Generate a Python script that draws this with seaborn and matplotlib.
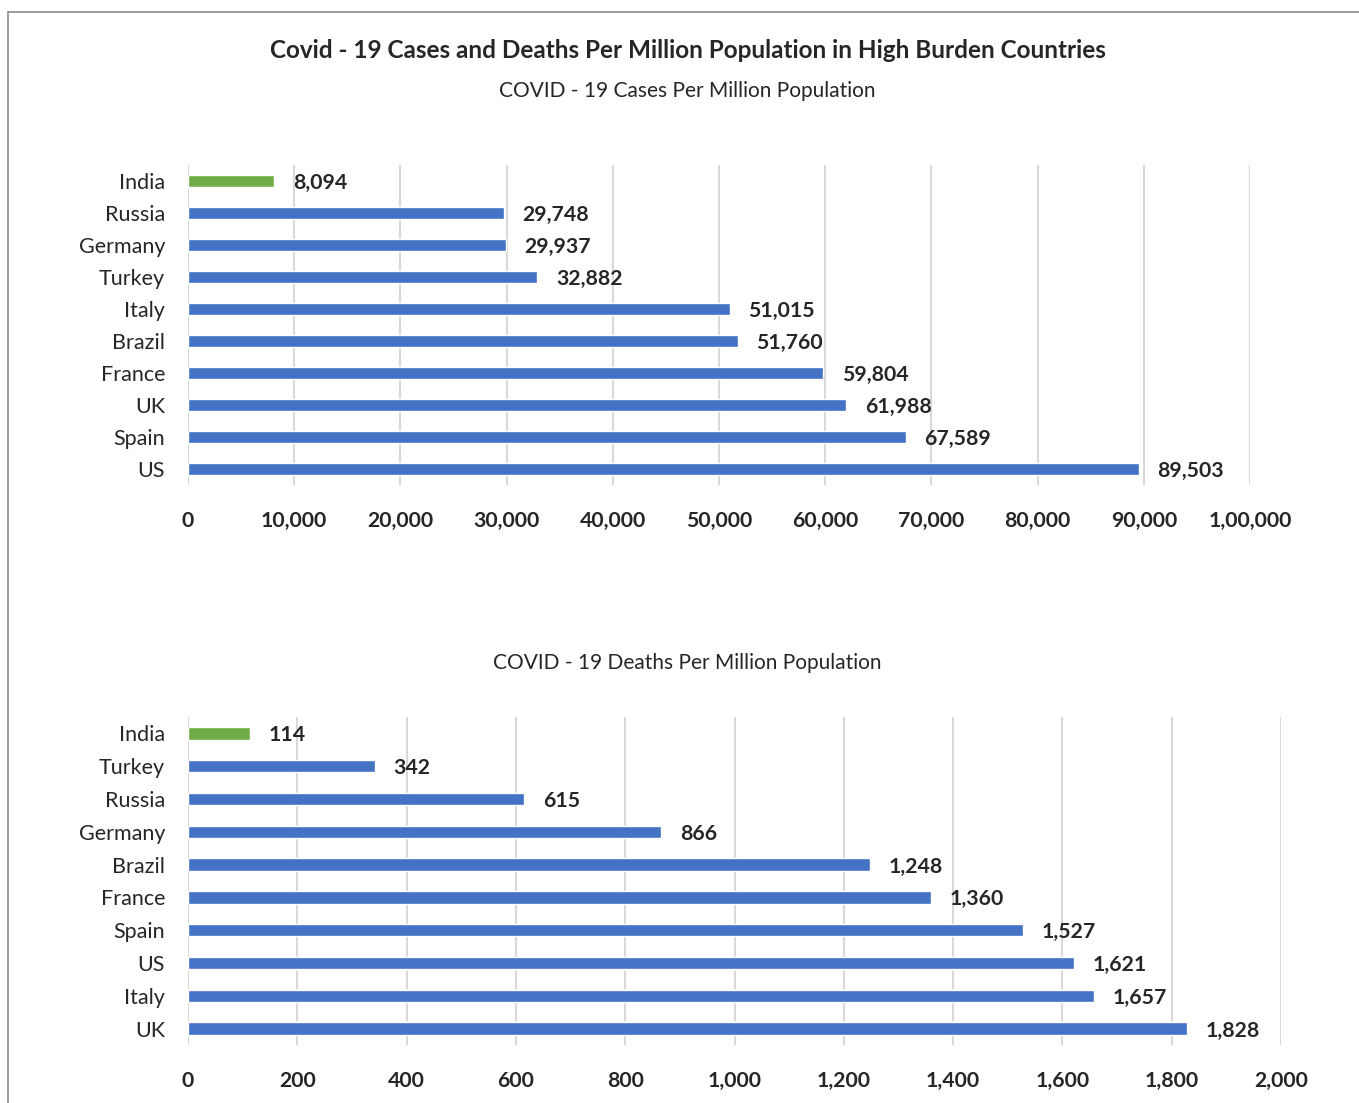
import matplotlib.pyplot as plt
import seaborn as sns
import pandas as pd
from matplotlib.lines import Line2D

# data
case_countries = ["India", "Russia", "Germany", "Turkey", "Italy", "Brazil",
                  "France", "UK", "Spain", "US"]
case_values = [8094, 29748, 29937, 32882, 51015, 51760, 59804, 61988, 67589, 89503]
case_ticks = [0, 10000, 20000, 30000, 40000, 50000, 60000, 70000, 80000, 90000, 100000]
case_tick_labels = ["0", "10,000", "20,000", "30,000", "40,000", "50,000", "60,000",
                    "70,000", "80,000", "90,000", "1,00,000"]

death_countries = ["India", "Turkey", "Russia", "Germany", "Brazil", "France",
                   "Spain", "US", "Italy", "UK"]
death_values = [114, 342, 615, 866, 1248, 1360, 1527, 1621, 1657, 1828]
death_ticks = [0, 200, 400, 600, 800, 1000, 1200, 1400, 1600, 1800, 2000]
death_tick_labels = ["0", "200", "400", "600", "800", "1,000", "1,200", "1,400",
                     "1,600", "1,800", "2,000"]

BLUE = "#4472C4"
GREEN = "#70AD47"
GRID = "#d9d9d9"
TEXT = "#262626"

sns.set_style("white")
plt.rcParams["font.family"] = ["Lato", "DejaVu Sans"]

fig = plt.figure(figsize=(13.59, 11.03), dpi=100)


def draw_panel(rect, countries, values, ticks, tick_labels):
    ax = fig.add_axes(rect)
    df = pd.DataFrame({"country": countries, "value": values})
    colors = [GREEN if c == "India" else BLUE for c in countries]
    sns.barplot(data=df, x="value", y="country", hue="country", palette=colors,
                orient="h", width=0.38, saturation=1, legend=False, ax=ax)
    for cont in ax.containers:
        labs = ax.bar_label(cont, labels=[f"{v:,.0f}" for v in cont.datavalues],
                            padding=13.5, fontsize=15.3, fontweight="bold", color=TEXT)
        for t in labs:
            # value labels sit a touch below the bar centre
            t.xyann = (t.xyann[0], -1.5)
    ax.set_xlim(ticks[0], ticks[-1])
    ax.set_ylim(len(countries) - 0.5, -0.5)
    ax.set_xticks(ticks)
    ax.set_xticklabels(tick_labels, fontsize=15.3, fontweight="bold", color=TEXT)
    ax.tick_params(axis="y", labelsize=15.5, labelcolor=TEXT, length=0, pad=16.5)
    ax.tick_params(axis="x", length=0, pad=19)
    ax.set_xlabel("")
    ax.set_ylabel("")
    ax.grid(axis="x", color=GRID, linewidth=1.5)
    ax.set_axisbelow(True)
    sns.despine(ax=ax, left=True, bottom=True)
    return ax


draw_panel([188 / 1359, 0.5603, 1062 / 1359, 0.2901], case_countries, case_values,
           case_ticks, case_tick_labels)
draw_panel([188 / 1359, 0.0526, 1093 / 1359, 0.2974], death_countries, death_values,
           death_ticks, death_tick_labels)

fig.text(0.506, 1 - 51 / 1103, "Covid - 19 Cases and Deaths Per Million Population in High Burden Countries",
         ha="center", va="center", fontsize=17.5, fontweight="bold", color=TEXT)
fig.text(0.506, 1 - 91 / 1103, "COVID - 19 Cases Per Million Population",
         ha="center", va="center", fontsize=15, color=TEXT)
fig.text(0.506, 1 - 663 / 1103, "COVID - 19 Deaths Per Million Population",
         ha="center", va="center", fontsize=15, color=TEXT)

# chart frame (left and top edges visible)
fig.add_artist(Line2D([8 / 1359, 8 / 1359], [0, 1 - 12 / 1103], color="#8c8c8c",
                      linewidth=1.2, transform=fig.transFigure))
fig.add_artist(Line2D([8 / 1359, 1], [1 - 12 / 1103, 1 - 12 / 1103], color="#8c8c8c",
                      linewidth=1.2, transform=fig.transFigure))

fig.savefig("out.png", dpi=100)
